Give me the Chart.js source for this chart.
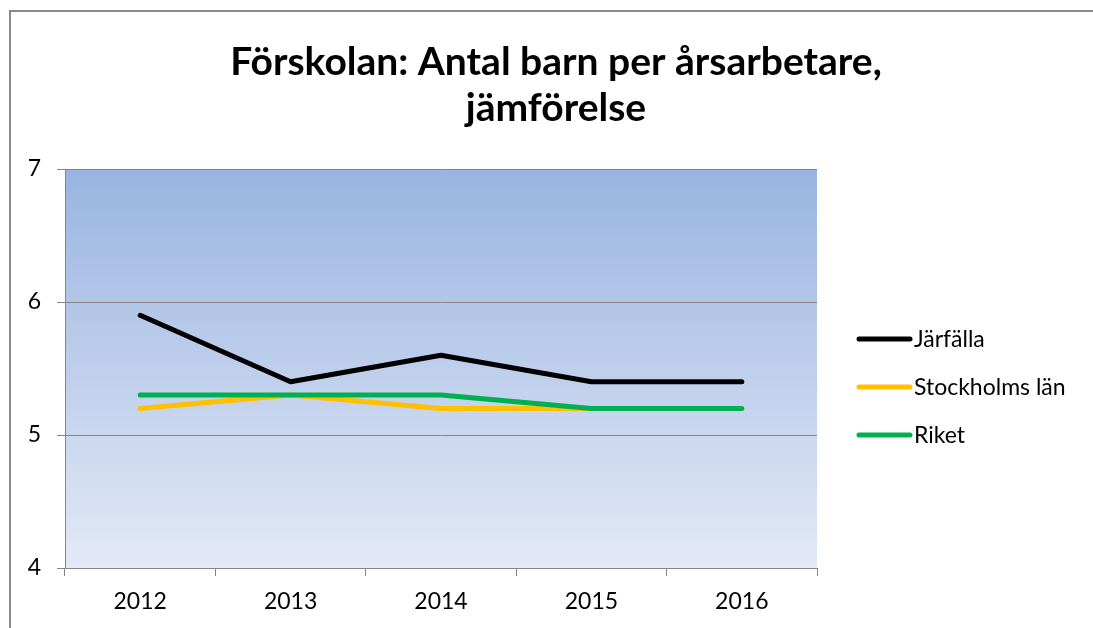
<!DOCTYPE html>
<html lang="sv">
<head>
<meta charset="UTF-8" />
<title>Förskolan: Antal barn per årsarbetare</title>
<script src="https://cdn.jsdelivr.net/npm/chart.js@4"></script>
<style>
  html, body { margin: 0; padding: 0; background: #fff; }
  #wrap { width: 1093px; height: 628px; position: relative; }
</style>
</head>
<body>
<div id="wrap"><canvas id="chart"></canvas></div>
<script>
// chart data
const years = ["2012", "2013", "2014", "2015", "2016"];
const jarfalla = [5.9, 5.4, 5.6, 5.4, 5.4];
const stockholmsLan = [5.2, 5.3, 5.2, 5.2, 5.2];
const riket = [5.3, 5.3, 5.3, 5.2, 5.2];
const seriesNames = ["Järfälla", "Stockholms län", "Riket"];
const titleLines = ["Förskolan: Antal barn per årsarbetare,", "jämförelse"];

const FONT = "Lato, 'Open Sans', sans-serif";
const GRAY = "#868686";

// frame, gradient plot background, title and legend
const decor = {
  id: "decor",
  beforeDraw(chart) {
    const { ctx, chartArea: a } = chart;
    ctx.save();
    ctx.strokeStyle = "#8a8a8a";
    ctx.lineWidth = 2;
    ctx.beginPath();
    ctx.moveTo(10, 640);
    ctx.lineTo(10, 11);
    ctx.lineTo(1100, 11);
    ctx.stroke();

    const g = ctx.createLinearGradient(0, a.top, 0, a.bottom);
    g.addColorStop(0, "#99b4e1");
    g.addColorStop(1, "#e3e9f6");
    ctx.fillStyle = g;
    ctx.fillRect(a.left, a.top, a.right - a.left, a.bottom - a.top);

    ctx.fillStyle = "#000";
    ctx.textAlign = "center";
    ctx.textBaseline = "middle";
    ctx.font = "bold 39px " + FONT;
    titleLines.forEach((t, i) => ctx.fillText(t, 556, 62 + i * 46));
    ctx.restore();
  },
  afterDraw(chart) {
    const { ctx } = chart;
    ctx.save();
    ctx.font = "23px " + FONT;
    ctx.textBaseline = "middle";
    ctx.lineCap = "round";
    chart.data.datasets.forEach((ds, i) => {
      const y = 339 + i * 48;
      ctx.strokeStyle = ds.borderColor;
      ctx.lineWidth = 5;
      ctx.beginPath();
      ctx.moveTo(859, y);
      ctx.lineTo(910, y);
      ctx.stroke();
      ctx.fillStyle = "#000";
      ctx.fillText(ds.label, 914, y + 1);
    });
    ctx.restore();
  }
};

const line = (label, data, color, order) => ({
  label, data, order,
  borderColor: color,
  backgroundColor: color,
  borderWidth: 5,
  borderCapStyle: "round",
  borderJoinStyle: "round",
  pointRadius: 0,
  tension: 0,
  fill: false
});

new Chart(document.getElementById("chart"), {
  type: "line",
  data: {
    labels: years,
    datasets: [
      line(seriesNames[0], jarfalla, "#000000", 0),
      line(seriesNames[1], stockholmsLan, "#ffc000", 2),
      line(seriesNames[2], riket, "#00b050", 1)
    ]
  },
  options: {
    responsive: true,
    maintainAspectRatio: false,
    animation: false,
    layout: { padding: { top: 169, right: 276, left: 0, bottom: 0 } },
    plugins: {
      legend: { display: false },
      title: { display: false },
      tooltip: { enabled: false }
    },
    scales: {
      x: {
        offset: true,
        grid: { offset: true, drawOnChartArea: false, color: GRAY, tickLength: 8 },
        border: { color: GRAY, width: 1 },
        ticks: { color: "#000", font: { family: FONT, size: 23 }, padding: 12 },
        afterFit(s) { s.height = 60; }
      },
      y: {
        min: 4,
        max: 7,
        ticks: { stepSize: 1, color: "#000", font: { family: FONT, size: 23 }, padding: 16 },
        grid: { color: GRAY, tickLength: 8 },
        border: { color: GRAY, width: 1 },
        afterFit(s) { s.width = 65; }
      }
    }
  },
  plugins: [decor]
});
</script>
</body>
</html>
